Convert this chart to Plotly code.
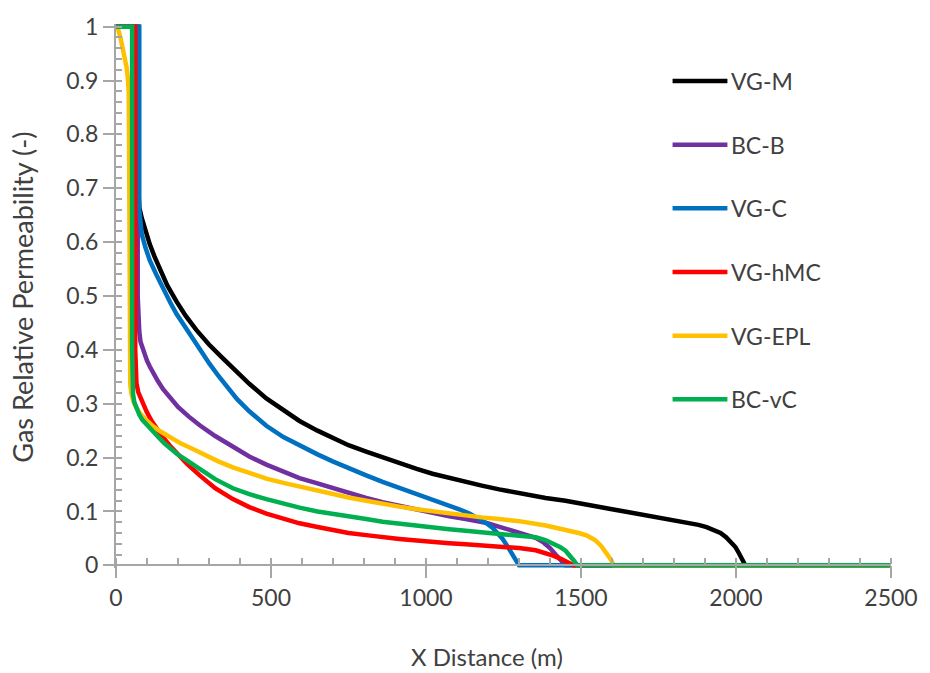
import plotly.graph_objects as go

# Distance along x (m) and gas relative permeability (-) for each model
names = ["VG-M", "BC-B", "VG-C", "VG-hMC", "VG-EPL", "BC-vC"]
colors = ["#000000", "#7030a0", "#0070c0", "#ff0000", "#ffc000", "#00b050"]

vgm_x = [0, 72, 72, 75, 83, 95, 109, 125, 142, 165, 195, 225, 259, 300, 340, 380, 430, 485,
         540, 592, 650, 699, 750, 807, 860, 914, 970, 1021, 1075, 1128, 1180, 1236, 1300,
         1386, 1450, 1493, 1550, 1600, 1650, 1708, 1760, 1815, 1850, 1879, 1905, 1930, 1950,
         1968, 1985, 1998, 2010, 2020, 2030, 2500]
vgm_y = [1, 1, 0.70, 0.665, 0.645, 0.62, 0.596, 0.572, 0.548, 0.52, 0.49, 0.463, 0.437,
         0.41, 0.387, 0.364, 0.337, 0.31, 0.288, 0.268, 0.25, 0.236, 0.223, 0.211, 0.2,
         0.189, 0.179, 0.17, 0.162, 0.155, 0.148, 0.141, 0.134, 0.125, 0.12, 0.116, 0.11,
         0.104, 0.099, 0.093, 0.088, 0.083, 0.079, 0.075, 0.071, 0.066, 0.06, 0.052, 0.043,
         0.034, 0.022, 0.01, 0, 0]

bcb_x = [0, 70, 70, 72, 75, 79, 90, 100, 109, 120, 135, 152, 175, 200, 235, 270, 320, 377,
         430, 485, 540, 592, 650, 699, 750, 807, 860, 914, 970, 1021, 1075, 1128, 1193, 1240,
         1278, 1320, 1354, 1380, 1400, 1418, 1435, 1450, 2500]
bcb_y = [1, 1, 0.50, 0.462, 0.435, 0.415, 0.395, 0.38, 0.369, 0.357, 0.342, 0.327, 0.31,
         0.294, 0.276, 0.26, 0.24, 0.22, 0.202, 0.187, 0.174, 0.162, 0.152, 0.143, 0.134,
         0.125, 0.117, 0.11, 0.103, 0.097, 0.091, 0.086, 0.079, 0.071, 0.064, 0.058, 0.051,
         0.042, 0.032, 0.02, 0.009, 0, 0]

vgc_x = [0, 75, 75, 78, 83, 95, 109, 130, 152, 175, 195, 222, 249, 275, 302, 330, 356, 390,
         430, 485, 540, 592, 650, 699, 750, 807, 860, 914, 970, 1021, 1065, 1107, 1140, 1171,
         1195, 1214, 1232, 1246, 1262, 1278, 1290, 1300, 2500]
vgc_y = [1, 1, 0.66, 0.635, 0.615, 0.59, 0.566, 0.54, 0.513, 0.488, 0.467, 0.443, 0.42,
         0.396, 0.374, 0.352, 0.332, 0.309, 0.286, 0.259, 0.238, 0.222, 0.206, 0.193, 0.18,
         0.167, 0.155, 0.144, 0.133, 0.122, 0.113, 0.104, 0.096, 0.087, 0.078, 0.07, 0.06,
         0.05, 0.036, 0.021, 0.009, 0, 0]

vghmc_x = [0, 62, 62, 63, 66, 72, 85, 99, 115, 131, 150, 174, 200, 230, 270, 320, 377, 430,
           485, 540, 592, 650, 699, 750, 807, 860, 914, 970, 1021, 1075, 1128, 1180, 1236,
           1300, 1354, 1385, 1410, 1435, 1455, 1476, 2500]
vghmc_y = [1, 1, 0.40, 0.36, 0.338, 0.321, 0.302, 0.285, 0.268, 0.254, 0.239, 0.222, 0.205,
           0.188, 0.167, 0.143, 0.123, 0.108, 0.096, 0.086, 0.078, 0.071, 0.065, 0.06, 0.056,
           0.052, 0.049, 0.046, 0.043, 0.041, 0.039, 0.037, 0.035, 0.032, 0.028, 0.023,
           0.018, 0.012, 0.007, 0, 0]

vgepl_x = [0, 7, 15, 22, 28, 34, 38, 41, 42, 43, 44, 46, 50, 57, 66, 78, 99, 120, 145, 175,
           210, 248, 290, 330, 377, 430, 485, 540, 592, 650, 699, 750, 807, 860, 914, 970,
           1021, 1075, 1128, 1180, 1236, 1300, 1386, 1440, 1493, 1520, 1545, 1565, 1580, 1595,
           1606, 2500]
vgepl_y = [1, 0.995, 0.978, 0.96, 0.943, 0.925, 0.905, 0.88, 0.8, 0.5, 0.36, 0.335, 0.318,
           0.303, 0.292, 0.282, 0.269, 0.258, 0.248, 0.237, 0.226, 0.216, 0.204, 0.193, 0.182,
           0.171, 0.161, 0.153, 0.146, 0.139, 0.132, 0.126, 0.12, 0.114, 0.109, 0.104, 0.1,
           0.096, 0.092, 0.089, 0.086, 0.082, 0.074, 0.068, 0.06, 0.055, 0.047, 0.036, 0.025,
           0.012, 0, 0]

bcvc_x = [0, 52, 52, 53, 55, 59, 66, 75, 85, 97, 109, 125, 140, 157, 174, 196, 220, 245, 270,
          320, 377, 430, 485, 540, 592, 650, 699, 750, 807, 860, 914, 970, 1021, 1075, 1128,
          1180, 1236, 1300, 1354, 1385, 1410, 1432, 1450, 1465, 1478, 1488, 2500]
bcvc_y = [1, 1, 0.40, 0.34, 0.318, 0.303, 0.29, 0.28, 0.27, 0.262, 0.254, 0.245, 0.236,
          0.226, 0.217, 0.207, 0.198, 0.189, 0.18, 0.16, 0.143, 0.132, 0.123, 0.114, 0.107,
          0.1, 0.095, 0.09, 0.086, 0.081, 0.077, 0.073, 0.07, 0.067, 0.064, 0.061, 0.059,
          0.056, 0.052, 0.047, 0.041, 0.034, 0.027, 0.018, 0.008, 0, 0]

series_x = [vgm_x, bcb_x, vgc_x, vghmc_x, vgepl_x, bcvc_x]
series_y = [vgm_y, bcb_y, vgc_y, vghmc_y, vgepl_y, bcvc_y]

x_ticks = [0, 500, 1000, 1500, 2000, 2500]
y_ticks = [0, 0.1, 0.2, 0.3, 0.4, 0.5, 0.6, 0.7, 0.8, 0.9, 1]
y_tick_text = ["0", "0.1", "0.2", "0.3", "0.4", "0.5", "0.6", "0.7", "0.8", "0.9", "1"]

FONT = "Lato"
TEXT = "#404040"
AXIS = "#a6a6a6"

W, H = 930, 673
L, R = 116, 37
PAD = 0.005                      # small headroom so lines on 0 and 1 are not clipped
PLOT_TOP_Y1, PLOT_Y0 = 20, 565   # pixel rows of y=1 and y=0
unit = PLOT_Y0 - PLOT_TOP_Y1
top = PLOT_TOP_Y1 - PAD * unit
bottom = PLOT_Y0 + PAD * unit
plot_h = bottom - top
plot_w = W - L - R


def paper_x(px):
    return (px - L) / plot_w


def paper_y(py):
    return (bottom - py) / plot_h


fig = go.Figure()
for nm, xs, ys, c in zip(names, series_x, series_y, colors):
    fig.add_trace(go.Scatter(x=xs, y=ys, mode="lines", name=nm,
                             line=dict(color=c, width=4.5), showlegend=False))

# Legend drawn as line samples with labels
shapes, annotations = [], []
row0, row_step = 75, 64.4
for i, (nm, c) in enumerate(zip(names, colors)):
    py = row0 + i * row_step
    shapes.append(dict(type="line", xref="paper", yref="paper",
                       x0=paper_x(674), x1=paper_x(729), y0=paper_y(py), y1=paper_y(py),
                       line=dict(color=c, width=4.5)))
    annotations.append(dict(x=paper_x(731), y=paper_y(py), xref="paper", yref="paper",
                            text=nm, showarrow=False, xanchor="left", yanchor="middle",
                            font=dict(family=FONT, size=23, color=TEXT)))

annotations.append(dict(x=paper_x(488), y=paper_y(657), xref="paper", yref="paper",
                        text="X Distance (m)", showarrow=False, xanchor="center",
                        yanchor="middle", font=dict(family=FONT, size=24, color=TEXT)))
annotations.append(dict(x=paper_x(22), y=paper_y(294), xref="paper", yref="paper",
                        text="Gas Relative Permeability (-)", showarrow=False, textangle=-90,
                        xanchor="center", yanchor="middle",
                        font=dict(family=FONT, size=27, color=TEXT)))

fig.update_layout(
    width=W, height=H,
    margin=dict(l=L, r=R, t=top, b=H - bottom, pad=0),
    paper_bgcolor="white", plot_bgcolor="white",
    font=dict(family=FONT, size=22, color=TEXT),
    shapes=shapes, annotations=annotations,
    xaxis=dict(range=[0, 2500], tickvals=x_ticks, showgrid=False, zeroline=False,
               showline=True, linecolor=AXIS, linewidth=2,
               anchor="free", position=paper_y(PLOT_Y0),
               ticks="outside", ticklen=12, tickwidth=2, tickcolor=AXIS,
               minor=dict(dtick=100, ticks="inside", ticklen=6, tickwidth=1.5, tickcolor=AXIS),
               tickfont=dict(family=FONT, size=23, color=TEXT)),
    yaxis=dict(range=[-PAD, 1 + PAD], tickvals=y_ticks, ticktext=y_tick_text,
               showgrid=False, zeroline=False,
               showline=True, linecolor=AXIS, linewidth=2,
               ticks="outside", ticklen=11, tickwidth=2, tickcolor=AXIS,
               minor=dict(dtick=0.02, tick0=0, ticks="inside", ticklen=6, tickwidth=1.5,
                          tickcolor=AXIS),
               tickfont=dict(family=FONT, size=23, color=TEXT)),
)

fig.write_html("out.html")
